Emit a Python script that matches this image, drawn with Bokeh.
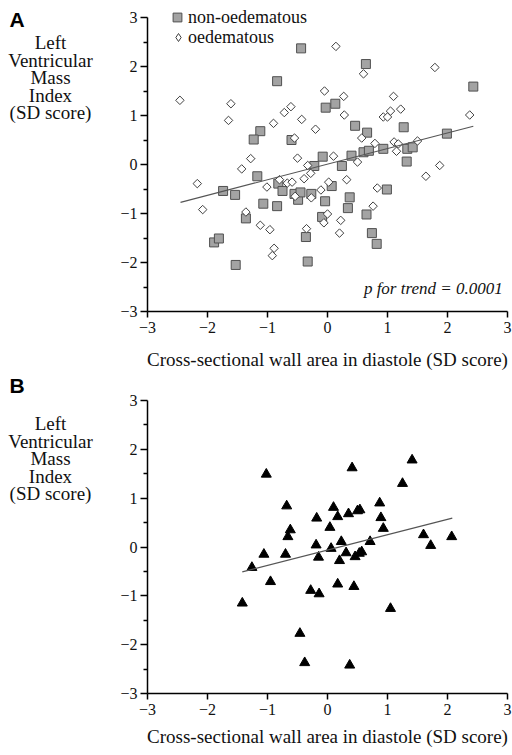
import math
from bokeh.plotting import figure
from bokeh.models import Range1d, FixedTicker, Label, Legend, LegendItem, Div
from bokeh.layouts import column, row
from bokeh.embed import file_html
from bokeh.resources import INLINE

# ---------------- data ----------------
# Panel A: non-oedematous (grey squares)
nonoed_x = [-0.44, -0.84, -1.12, -1.23, -0.60, -0.03, 0.13, -0.08, -0.22, 0.64,
            0.46, 0.66, 1.27, 2.43, 1.99, 0.40, 0.60, 0.69, 0.93, 1.33,
            1.42, 1.32, 0.24, -1.17, -1.74, -1.54, -0.82, -0.75, -0.55, -0.49,
            -0.45, -0.27, -0.04, -1.07, -0.84, -1.36, -0.09, -1.89, -1.81, -0.36,
            -1.53, -0.33, 0.07, 0.37, 0.99, 0.34, 0.65, 0.74, 0.82]
nonoed_y = [2.37, 1.70, 0.68, 0.51, 0.50, 1.16, 1.24, 0.16, -0.03, 2.05,
            0.79, 0.65, 0.76, 1.59, 0.63, 0.18, 0.25, 0.28, 0.32, 0.32,
            0.35, 0.06, -0.03, -0.24, -0.54, -0.62, -0.39, -0.54, -0.60, -0.72,
            -0.57, -0.60, -0.75, -0.80, -0.85, -1.10, -1.07, -1.59, -1.51, -1.48,
            -2.05, -1.98, -0.44, -0.67, -0.51, -0.89, -1.02, -1.40, -1.62]

# Panel A: oedematous (open diamonds)
oed_x = [-2.46, -1.61, -1.65, -0.90, -0.72, -0.61, -0.43, -0.20, -0.05, -0.55,
         -1.28, -0.50, -0.33, -1.43, 0.14, 0.60, 1.79, 0.27, 0.28, 1.10,
         1.22, 1.05, 0.93, 1.00, 2.37, 0.57, 0.79, 1.11, 1.18, 1.50,
         1.15, 0.10, 0.50, 1.87, -2.17, -2.08, -0.28, -0.39, -0.80, -0.67,
         -0.59, -1.01, -0.54, -0.27, -0.11, 0.02, -1.36, -1.12, -0.96, -0.06,
         0.00, -0.35, -0.89, -0.92, 0.32, 0.22, 0.20, 0.83, 0.76, 1.64]
oed_y = [1.31, 1.24, 0.90, 0.84, 1.06, 1.18, 0.92, 0.72, 1.50, 0.54,
         0.12, 0.13, -0.02, -0.09, 2.41, 1.85, 1.98, 1.39, 1.01, 1.39,
         1.13, 1.09, 0.97, 0.97, 1.01, 0.54, 0.43, 0.46, 0.42, 0.48,
         0.27, 0.17, 0.05, -0.02, -0.39, -0.92, -0.18, -0.29, -0.31, -0.38,
         -0.36, -0.46, -0.65, -0.68, -0.52, -0.36, -0.97, -1.24, -1.33, -1.19,
         -1.01, -1.31, -1.71, -1.86, -0.31, -1.14, -1.40, -0.48, -0.85, -0.24]

# Panel B: triangles
tri_x = [-1.02, -0.68, -0.18, -0.62, 0.04, -0.66, 0.41, 1.41, 1.25, 0.10,
         0.17, 0.35, 0.50, 0.54, 0.87, 0.89, 0.93, 1.60, 2.07, 0.23,
         0.71, -1.06, -0.70, -0.19, -0.15, -1.26, -0.95, -0.28, -0.14, -1.42,
         -0.46, -0.38, 1.72, 0.06, 0.31, 0.57, 0.53, 0.46, 0.20, 0.17,
         0.44, 1.05, 0.37]
tri_y = [1.49, 0.84, 0.59, 0.35, 0.40, 0.21, 1.62, 1.78, 1.30, 0.81,
         0.62, 0.68, 0.74, 0.76, 0.90, 0.60, 0.38, 0.25, 0.21, 0.11,
         0.11, -0.15, -0.15, 0.04, -0.21, -0.42, -0.71, -0.89, -0.96, -1.15,
         -1.77, -2.37, 0.03, -0.03, -0.12, -0.10, -0.13, -0.20, -0.28, -0.76,
         -0.81, -1.26, -2.42]

# regression lines (x extent, intercept, slope)
lineA_x = [-2.45, 2.43]
lineA_a, lineA_b = 0.007, 0.318
lineB_x = [-1.42, 2.08]
lineB_a, lineB_b = -0.063, 0.314

tick_vals = [-3, -2, -1, 0, 1, 2, 3]
minor_vals = [-2.5, -1.5, -0.5, 0.5, 1.5, 2.5]
xlabel = "Cross-sectional wall area in diastole (SD score)"
ylabel_lines = ["Left", "Ventricular", "Mass", "Index", "(SD score)"]
trend_text = "p for trend = 0.0001"
legend_labels = ["non-oedematous", "oedematous"]

SERIF = "Liberation Serif"
SANS = "Liberation Sans"
INK = "#111111"

SIDE_W = 110       # width of the text column at left
MAIN_W = 512 - SIDE_W


def side_div(height, letter, letter_block, gap):
    """Column at the left with the panel letter and the stacked y-axis title."""
    html = (
        f'<div style="margin:0;padding:0;width:34px;height:{letter_block}px;'
        f'line-height:{letter_block}px;text-align:center;font-family:\'{SANS}\';'
        f'font-weight:bold;font-size:21px;color:black">{letter}</div>'
        f'<div style="margin:{gap}px 0 0 0;padding:0;width:101px;text-align:center;'
        f'font-family:\'{SERIF}\';font-size:19px;line-height:17.6px;color:{INK}">'
        + "<br>".join(ylabel_lines) + '</div>'
    )
    return Div(text=html, width=SIDE_W, height=height, margin=0)


def main_fig(height, top_border, bottom_border, title_standoff, y_top):
    p = figure(width=MAIN_W, height=height, x_range=Range1d(-3, 3), y_range=Range1d(-3, y_top),
               output_backend="svg", toolbar_location=None,
               min_border_left=37, min_border_right=5,
               min_border_top=top_border, min_border_bottom=bottom_border)
    p.outline_line_color = None
    p.grid.visible = False
    xa = p.xaxis[0]
    xa.ticker = FixedTicker(ticks=tick_vals)
    xa.major_tick_out = 6
    xa.major_tick_in = 0
    xa.minor_tick_out = 0
    xa.minor_tick_in = 0
    xa.axis_line_width = 1.5
    xa.major_tick_line_width = 1.5
    xa.axis_line_color = "black"
    xa.major_label_text_font = SERIF
    xa.major_label_text_font_size = "16px"
    xa.major_label_text_color = INK
    xa.major_label_standoff = 4
    xa.axis_label = xlabel
    xa.axis_label_text_font = SERIF
    xa.axis_label_text_font_size = "19px"
    xa.axis_label_text_font_style = "normal"
    xa.axis_label_text_color = INK
    xa.axis_label_standoff = title_standoff
    ya = p.yaxis[0]
    ya.ticker = FixedTicker(ticks=tick_vals, minor_ticks=minor_vals)
    ya.bounds = (-3, 3)
    ya.major_tick_out = 7
    ya.major_tick_in = 0
    ya.minor_tick_out = 4
    ya.minor_tick_in = 0
    ya.axis_line_width = 1.5
    ya.major_tick_line_width = 1.5
    ya.minor_tick_line_width = 1.5
    ya.axis_line_color = "black"
    ya.major_label_text_font = SERIF
    ya.major_label_text_font_size = "16px"
    ya.major_label_text_color = INK
    ya.major_label_standoff = 3
    return p


# ---------------- Panel A ----------------
HA = 378
sA = side_div(HA, "A", 40, -6)

# frame reaches 15 px above the y = 3 tick so that the legend is not clipped
pA = main_fig(HA, 2, HA - 17 - 294, 13, 3 + 15 / 49.0)
sq = pA.scatter(nonoed_x, nonoed_y, marker="square", size=9, fill_color="#a3a3a3",
                line_color="#505050", line_width=1)
# diamond-shaped key for the legend; drawn small, underneath the open diamonds
dm_key = pA.scatter(oed_x, oed_y, marker="diamond", size=4, fill_color="white",
                    line_color="#404040", line_width=1)
pA.scatter(oed_x, oed_y, marker="square", angle=math.pi / 4, size=6,
           fill_color="white", line_color="#404040", line_width=1)
pA.line(lineA_x, [lineA_a + lineA_b * v for v in lineA_x], line_color="#555555", line_width=1.2)
pA.add_layout(Label(x=2.92, y=-2.53, text=trend_text, text_font=SERIF,
                    text_font_style="italic", text_font_size="17px", text_align="right",
                    text_baseline="middle", text_color=INK))

leg1 = Legend(items=[LegendItem(label=legend_labels[0], renderers=[sq])],
              location=(19, 283), glyph_width=22, glyph_height=22,
              label_standoff=0, padding=0, margin=0, spacing=0,
              border_line_color=None, background_fill_alpha=0,
              label_text_font=SERIF, label_text_font_size="18px", label_text_color=INK)
leg2 = Legend(items=[LegendItem(label=legend_labels[1], renderers=[dm_key])],
              location=(21, 263), glyph_width=20, glyph_height=22,
              label_standoff=0, padding=0, margin=0, spacing=0,
              border_line_color=None, background_fill_alpha=0,
              label_text_font=SERIF, label_text_font_size="18px", label_text_color=INK)
pA.add_layout(leg1)
pA.add_layout(leg2)

# ---------------- Panel B ----------------
HB = 755 - HA
sB = side_div(HB, "B", 16, 21)

pB = main_fig(HB, 22, HB - 22 - 293, 8, 3)
pB.scatter(tri_x, tri_y, marker="triangle", size=10, fill_color="black",
           line_color="black", line_width=1)
pB.line(lineB_x, [lineB_a + lineB_b * v for v in lineB_x], line_color="#555555", line_width=1.2)

layout = column(row(sA, pA, spacing=0), row(sB, pB, spacing=0), spacing=0)
open("out.html", "w").write(file_html(layout, INLINE))
